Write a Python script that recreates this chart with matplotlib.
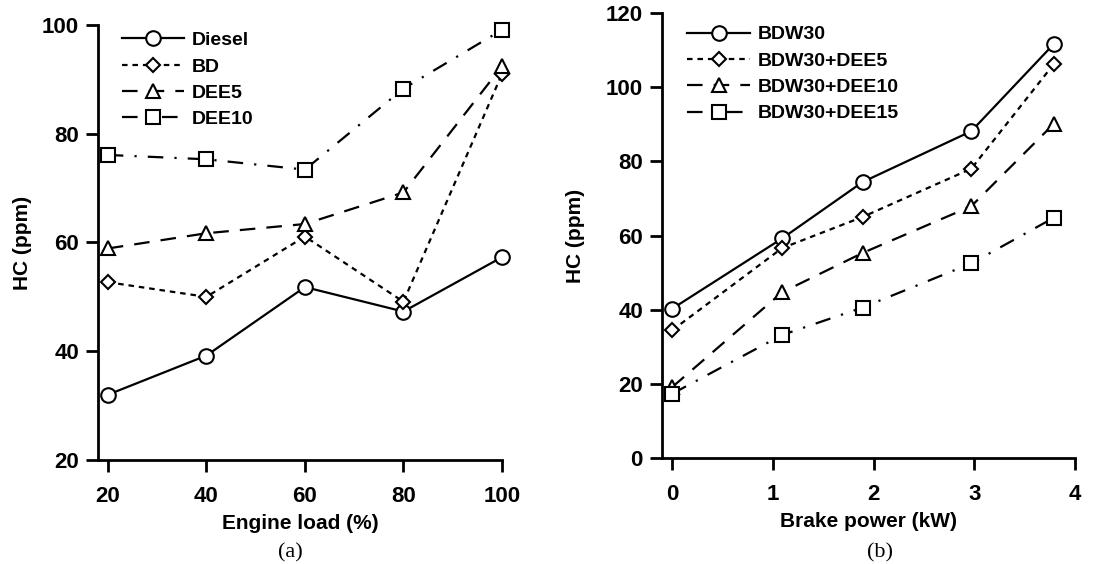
import matplotlib
matplotlib.use("Agg")
import matplotlib.pyplot as plt

plt.rcParams['font.family'] = ['Liberation Sans', 'DejaVu Sans']
plt.rcParams['font.weight'] = 'bold'

# (a) HC vs engine load
load = [20, 40, 60, 80, 100]
hc_diesel = [32.0, 39.2, 51.8, 47.3, 57.3]
hc_bd = [52.7, 50.0, 61.1, 49.1, 91.0]
hc_dee5 = [58.9, 61.7, 63.4, 69.2, 92.4]
hc_dee10 = [76.1, 75.3, 73.4, 88.3, 99.1]
names_a = ['Diesel', 'BD', 'DEE5', 'DEE10']

# (b) HC vs brake power
bp = [0.0, 1.09, 1.89, 2.97, 3.79]
hc_bdw30 = [40.3, 59.2, 74.4, 88.1, 111.6]
hc_bdw30_dee5 = [34.5, 56.6, 65.0, 78.0, 106.2]
hc_bdw30_dee10 = [19.2, 44.7, 55.3, 67.9, 90.1]
hc_bdw30_dee15 = [17.4, 33.2, 40.6, 52.5, 64.8]
names_b = ['BDW30', 'BDW30+DEE5', 'BDW30+DEE10', 'BDW30+DEE15']

markers = ['o', 'D', '^', 's']
msizes = [10.5, 7, 10, 10.5]
styles = ['-', (0, (2.5, 2.2)), (0, (7, 5)), (0, (7, 5, 1, 5))]

fig = plt.figure(figsize=(11.17, 5.64), dpi=100)
ax1 = fig.add_axes([0.0877, 0.1844, 0.3617, 0.7713])
ax2 = fig.add_axes([0.5924, 0.1874, 0.3700, 0.7900])


def draw(ax, x, series, names):
    for i, y in enumerate(series):
        ax.plot(x, y, linestyle=styles[i], color='black', lw=1.6,
                marker=markers[i], ms=msizes[i], mfc='white', mec='black',
                mew=1.5, label=names[i], clip_on=False)
    for s in ['top', 'right']:
        ax.spines[s].set_visible(False)
    for s in ['left', 'bottom']:
        ax.spines[s].set_linewidth(2)
    ax.tick_params(direction='out', length=8.5, width=2, labelsize=16)
    ax.tick_params(axis='x', pad=10)
    ax.tick_params(axis='y', pad=5)
    for lab in ax.get_xticklabels() + ax.get_yticklabels():
        lab.set_fontweight('bold')
    ax.set_ylabel('HC (ppm)', fontsize=15, fontweight='bold')


draw(ax1, load, [hc_diesel, hc_bd, hc_dee5, hc_dee10], names_a)
ax1.set_xlim(18, 100)
ax1.set_ylim(20, 100)
ax1.set_xticks([20, 40, 60, 80, 100])
ax1.set_yticks([20, 40, 60, 80, 100])
ax1.set_xlabel('Engine load (%)', fontsize=15, fontweight='bold', labelpad=5)
ax1.yaxis.set_label_coords(-0.163, 0.5)
ax1.legend(loc='upper left', bbox_to_anchor=(0.015, 1.025), frameon=False,
           handlelength=3.2, labelspacing=0.45, handletextpad=0.4,
           prop={'weight': 'bold', 'size': 14})

draw(ax2, bp, [hc_bdw30, hc_bdw30_dee5, hc_bdw30_dee10, hc_bdw30_dee15], names_b)
ax2.set_xlim(-0.105, 4)
ax2.set_ylim(0, 120)
ax2.set_xticks([0, 1, 2, 3, 4])
ax2.set_yticks([0, 20, 40, 60, 80, 100, 120])
ax2.set_xlabel('Brake power (kW)', fontsize=15, fontweight='bold', labelpad=5)
ax2.yaxis.set_label_coords(-0.186, 0.5)
ax2.legend(loc='upper left', bbox_to_anchor=(0.02, 1.01), frameon=False,
           handlelength=3.2, labelspacing=0.45, handletextpad=0.4,
           prop={'weight': 'bold', 'size': 14})

fig.text(0.26, 0.012, '(a)', fontsize=16, family='Liberation Serif',
         fontweight='normal', ha='center')
fig.text(0.788, 0.012, '(b)', fontsize=16, family='Liberation Serif',
         fontweight='normal', ha='center')

fig.savefig('out.png', dpi=100, facecolor='white')
